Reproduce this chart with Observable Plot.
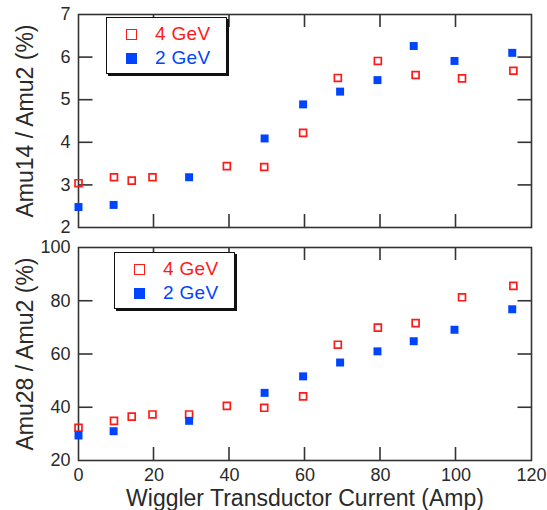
<!DOCTYPE html>
<html>
<head>
<meta charset="utf-8">
<script src="https://cdn.jsdelivr.net/npm/d3@7"></script>
<script src="https://cdn.jsdelivr.net/npm/@observablehq/plot@0.6"></script>
<style>
  html, body { margin: 0; padding: 0; background: #fff; }
  #chart { position: relative; width: 547px; height: 510px; font-family: "Liberation Sans", Arial, sans-serif; }
  #chart svg { position: absolute; left: 0; }
  .legend { position: absolute; background: #fff; border: 1px solid #111; box-shadow: 2px 2px 0 #111; box-sizing: border-box; }
  .legend .row { position: absolute; left: 0; height: 22px; display: flex; align-items: center; font-size: 19px; letter-spacing: 0.3px; }
  .legend .sw { width: 11px; height: 11px; box-sizing: border-box; margin-left: 19px; margin-right: 18px; }
</style>
</head>
<body>
<div id="chart"></div>
<script>
// Wiggler transductor current (A) for each run
const current4GeV = [0, 9.4, 14.1, 19.6, 29.3, 39.3, 49.2, 59.5, 68.7, 79.3, 89.3, 101.6, 115.2];
const current2GeV = [0, 9.3, 29.3, 49.3, 59.5, 69.3, 79.2, 88.8, 99.6, 114.9];

// Mass 14 / mass 2 ratio (%)
const amu14_4GeV = [3.04, 3.18, 3.10, 3.18, null, 3.44, 3.42, 4.22, 5.51, 5.91, 5.58, 5.50, 5.68];
const amu14_2GeV = [2.48, 2.53, 3.18, 4.09, 4.89, 5.19, 5.46, 6.26, 5.91, 6.10];

// Mass 28 / mass 2 ratio (%)
const amu28_4GeV = [32.3, 34.9, 36.5, 37.3, 37.3, 40.5, 39.8, 44.1, 63.5, 69.9, 71.6, 81.3, 85.6];
const amu28_2GeV = [29.4, 31.0, 34.9, 45.4, 51.6, 56.8, 61.0, 64.8, 69.1, 76.8];

const seriesNames = ["4 GeV", "2 GeV"];
const xTicks = [0, 20, 40, 60, 80, 100, 120];
const yTicksTop = [2, 3, 4, 5, 6, 7];
const yTicksBottom = [20, 40, 60, 80, 100];
const xTitle = "Wiggler Transductor Current (Amp)";

const RED = "#ff1a1a";
const BLUE = "#0044ff";
const AXIS = "#333";
const TEXT = "#2a2a2a";
const TICK = 13;          // inward tick length, px
const WIDTH = 547, M_LEFT = 78, M_RIGHT = 16;

function rows(xs, ys) {
  return xs.map((x, i) => ({x, y: ys[i]})).filter(d => d.y != null);
}

function panel({height, marginTop, marginBottom, yDomain, yTicks, yLabel, s4, s2, showX}) {
  const innerY = yTicks.slice(1, -1);
  const plotW = WIDTH - M_LEFT - M_RIGHT;
  const [x0, x1] = [xTicks[0], xTicks[xTicks.length - 1]];
  const tx = (TICK + 1) * (x1 - x0) / plotW;
  const seg = {stroke: AXIS, strokeWidth: 1.6};
  const marks = [
    // inward tick marks on the left and right edges
    Plot.link(innerY, {y1: d => d, y2: d => d, x1: () => x0, x2: () => x0 + tx, ...seg}),
    Plot.link(innerY, {y1: d => d, y2: d => d, x1: () => x1 - tx, x2: () => x1, ...seg}),
    Plot.frame({stroke: AXIS, strokeWidth: 1.6}),
    // tick labels
    Plot.axisY(yTicks, {anchor: "left", tickSize: 0, tickPadding: 8, fontSize: 18, fill: TEXT, label: null}),
    Plot.text([yLabel], {frameAnchor: "left", dx: -53, rotate: -90, fontSize: 23, fill: TEXT, textAnchor: "middle", lineAnchor: "middle"}),
    Plot.dot(s4, {x: "x", y: "y", symbol: "square", r: 3.9, stroke: RED, strokeWidth: 1.7, fill: "none"}),
    Plot.dot(s2, {x: "x", y: "y", symbol: "square", r: 4.5, fill: BLUE, stroke: "none"})
  ];
  if (showX) {
    marks.push(
      Plot.axisX(xTicks, {anchor: "bottom", tickSize: 0, tickPadding: 8, fontSize: 18, fill: TEXT, label: null}),
      Plot.text([xTitle], {frameAnchor: "bottom", dy: 38, fontSize: 23, fill: TEXT, textAnchor: "middle", lineAnchor: "middle"})
    );
  }
  const svg = Plot.plot({
    width: WIDTH,
    height,
    marginLeft: M_LEFT,
    marginRight: M_RIGHT,
    marginTop,
    marginBottom,
    style: {fontFamily: "Liberation Sans, Arial, sans-serif", background: "transparent", overflow: "visible"},
    x: {domain: [x0, x1], axis: null},
    y: {domain: yDomain, axis: null},
    marks
  });

  // inward tick marks on the top and bottom edges, placed with the plot's x scale
  const xs = svg.scale("x");
  const yTop = marginTop, yBottom = height - marginBottom;
  const g = d3.select(svg).append("g")
    .attr("stroke", AXIS)
    .attr("stroke-width", 1.6);
  xTicks.slice(1, -1).forEach(v => {
    const px = xs.apply(v);
    g.append("line").attr("x1", px).attr("x2", px).attr("y1", yBottom).attr("y2", yBottom - TICK);
    g.append("line").attr("x1", px).attr("x2", px).attr("y1", yTop).attr("y2", yTop + TICK);
  });
  return svg;
}

const chart = document.getElementById("chart");

const upperPanel = panel({
  height: 240, marginTop: 14, marginBottom: 13,
  yDomain: [2, 7], yTicks: yTicksTop, yLabel: "Amu14 / Amu2 (%)",
  s4: rows(current4GeV, amu14_4GeV), s2: rows(current2GeV, amu14_2GeV), showX: false
});
upperPanel.style.top = "0px";
chart.appendChild(upperPanel);

const lowerPanel = panel({
  height: 270, marginTop: 7, marginBottom: 50,
  yDomain: [20, 100], yTicks: yTicksBottom, yLabel: "Amu28 / Amu2 (%)",
  s4: rows(current4GeV, amu28_4GeV), s2: rows(current2GeV, amu28_2GeV), showX: true
});
lowerPanel.style.top = "240px";
chart.appendChild(lowerPanel);

// Legend boxes drawn over each panel
function legend(left, topPx) {
  const box = document.createElement("div");
  box.className = "legend";
  Object.assign(box.style, {left: left + "px", top: topPx + "px", width: "121px", height: "57px"});
  const styles = [
    {color: RED, sw: `border: 1.8px solid ${RED}; background: #fff;`},
    {color: BLUE, sw: `background: ${BLUE};`}
  ];
  seriesNames.forEach((name, i) => {
    const row = document.createElement("div");
    row.className = "row";
    row.style.top = (5 + i * 24) + "px";
    row.style.color = styles[i].color;
    row.innerHTML = `<span class="sw" style="${styles[i].sw}"></span><span>${name}</span>`;
    box.appendChild(row);
  });
  chart.appendChild(box);
}
legend(106, 17);
legend(114, 252);
</script>
</body>
</html>
